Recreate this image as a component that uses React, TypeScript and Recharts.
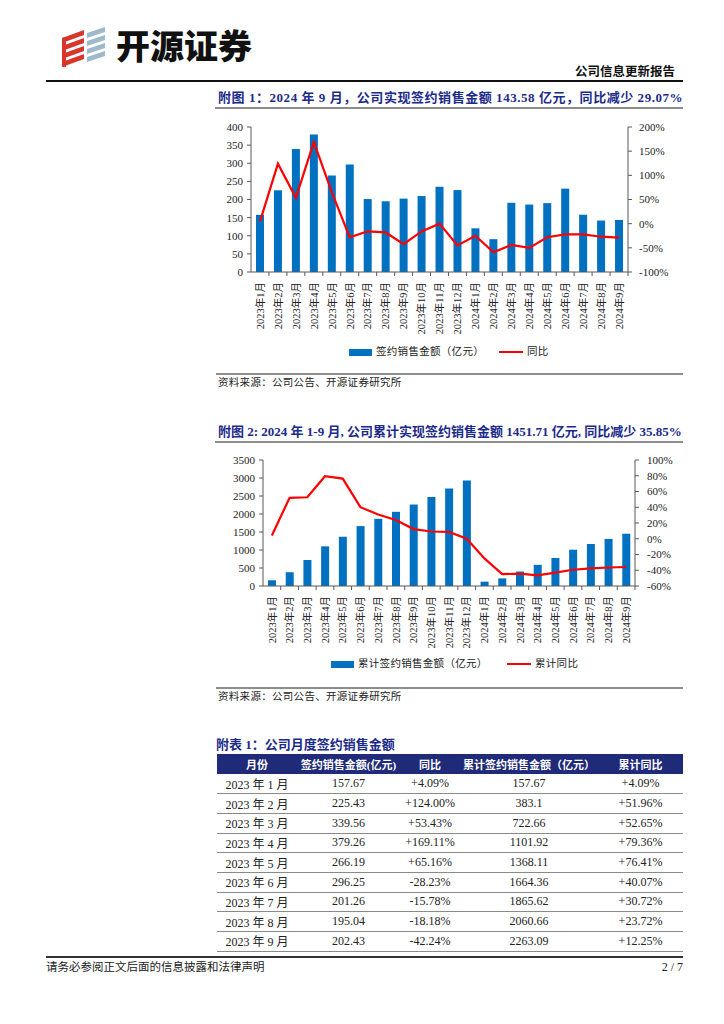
import React from 'react';
import { ComposedChart, Bar, Line, XAxis, YAxis } from 'recharts';

const months = [
  '2023年1月', '2023年2月', '2023年3月', '2023年4月', '2023年5月', '2023年6月', '2023年7月',
  '2023年8月', '2023年9月', '2023年10月', '2023年11月', '2023年12月', '2024年1月', '2024年2月',
  '2024年3月', '2024年4月', '2024年5月', '2024年6月', '2024年7月', '2024年8月', '2024年9月',
];
// 签约销售金额（亿元）
const monthlySales = [157.67, 225.43, 339.56, 379.26, 266.19, 296.25, 201.26, 195.04, 202.43, 209.5, 235.2, 226.0, 120.5, 90.6, 191.0, 186.0, 190.0, 230.0, 158.0, 142.0, 143.58];
// 同比 (%)
const monthlyYoY = [4.09, 124.0, 53.43, 169.11, 65.16, -28.23, -15.78, -18.18, -42.24, -16.0, 0.0, -45.0, -25.0, -59.0, -44.0, -50.0, -28.0, -22.0, -22.0, -27.0, -29.07];
// 累计签约销售金额（亿元）
const cumSales = [157.67, 383.1, 722.66, 1101.92, 1368.11, 1664.36, 1865.62, 2060.66, 2263.09, 2472.6, 2707.8, 2933.8, 120.5, 211.1, 402.1, 588.1, 778.1, 1008.1, 1166.1, 1308.1, 1451.71];
// 累计同比 (%)
const cumYoY = [4.09, 51.96, 52.65, 79.36, 76.41, 40.07, 30.72, 23.72, 12.25, 9.2, 8.7, 0.0, -25.0, -44.9, -44.4, -46.6, -43.1, -39.4, -37.5, -36.5, -35.85];

const salesTicks = [0, 50, 100, 150, 200, 250, 300, 350, 400];
const yoyTicks = [-100, -50, 0, 50, 100, 150, 200];
const cumTicks = [0, 500, 1000, 1500, 2000, 2500, 3000, 3500];
const cumYoyTicks = [-60, -40, -20, 0, 20, 40, 60, 80, 100];

// 附表 1
const tableHeader = ['月份', '签约销售金额(亿元)', '同比', '累计签约销售金额（亿元）', '累计同比'];
const tableMonths = ['2023 年 1 月', '2023 年 2 月', '2023 年 3 月', '2023 年 4 月', '2023 年 5 月', '2023 年 6 月', '2023 年 7 月', '2023 年 8 月', '2023 年 9 月'];
const tableSales = ['157.67', '225.43', '339.56', '379.26', '266.19', '296.25', '201.26', '195.04', '202.43'];
const tableYoY = ['+4.09%', '+124.00%', '+53.43%', '+169.11%', '+65.16%', '-28.23%', '-15.78%', '-18.18%', '-42.24%'];
const tableCum = ['157.67', '383.1', '722.66', '1101.92', '1368.11', '1664.36', '1865.62', '2060.66', '2263.09'];
const tableCumYoY = ['+4.09%', '+51.96%', '+52.65%', '+79.36%', '+76.41%', '+40.07%', '+30.72%', '+23.72%', '+12.25%'];

const chart1Data = months.map((m, i) => ({ m, sales: monthlySales[i], yoy: monthlyYoY[i] }));
const chart2Data = months.map((m, i) => ({ m, sales: cumSales[i], yoy: cumYoY[i] }));

const serif = '"Liberation Serif", "Noto Sans CJK SC", serif';
const BLUE = '#0070C0';
const RED = '#FF0000';
const AXIS = '#595959';
const TITLE = '#1c2b8a';

const XTick = (props: any) => {
  const { x, y, payload, bw } = props;
  const ty = y + 8;
  return (
    <g>
      <line x1={x + bw / 2} x2={x + bw / 2} y1={y - 2} y2={y + 2} stroke={AXIS} strokeWidth={1} />
      <text
        x={x}
        y={ty}
        transform={`rotate(-90, ${x}, ${ty})`}
        textAnchor="end"
        dy="0.36em"
        fontSize={10.5}
        fill="#222"
        fontFamily={serif}
      >
        {payload.value}
      </text>
    </g>
  );
};

const tickStyle = { fontSize: 11, fill: '#222', fontFamily: serif };

function DualChart({ data, left, right, width, height, leftW, rightW, top, leftDomain, rightDomain, rightMargin }: any) {
  const bw = (width - leftW - rightW) / data.length;
  return (
    <ComposedChart width={width} height={height} data={data} margin={{ top, right: 0, bottom: 0, left: 0 }}>
      <XAxis
        dataKey="m"
        interval={0}
        height={65}
        tickSize={0}
        tickMargin={2}
        axisLine={{ stroke: AXIS }}
        tick={(p: any) => <XTick {...p} bw={bw} />}
      />
      <YAxis
        yAxisId="left"
        width={leftW}
        domain={leftDomain}
        ticks={left}
        interval={0}
        tickSize={4}
        tickMargin={4}
        axisLine={{ stroke: AXIS }}
        tickLine={{ stroke: AXIS }}
        tick={tickStyle}
      />
      <YAxis
        yAxisId="right"
        orientation="right"
        width={rightW}
        domain={rightDomain}
        ticks={right}
        interval={0}
        tickSize={4}
        tickMargin={rightMargin}
        axisLine={{ stroke: AXIS }}
        tickLine={{ stroke: AXIS }}
        tick={tickStyle}
        tickFormatter={(v: number) => `${v}%`}
      />
      <Bar yAxisId="left" dataKey="sales" fill={BLUE} barSize={8} isAnimationActive={false} />
      <Line yAxisId="right" dataKey="yoy" stroke={RED} strokeWidth={2.2} dot={false} type="linear" isAnimationActive={false} />
    </ComposedChart>
  );
}

const abs = (left: number, top: number, extra: any = {}) => ({ position: 'absolute' as const, left, top, ...extra });

function Legend({ top, left, barText, lineLeft, lineText }: any) {
  const txt = { fontSize: 10.5, fontFamily: serif, color: '#222', whiteSpace: 'nowrap', lineHeight: '16px', letterSpacing: 0.3 };
  return (
    <>
      <div style={abs(left, top - 3, { width: 23, height: 7, background: BLUE })} />
      <div style={abs(left + 27, top - 8, txt)}>{barText}</div>
      <div style={abs(lineLeft, top - 1, { width: 24, height: 2, background: RED })} />
      <div style={abs(lineLeft + 28, top - 8, txt)}>{lineText}</div>
    </>
  );
}

function Logo() {
  const red = '#D7372B';
  const blue = '#9DBACB';
  const bars = [0, 1, 2, 3];
  return (
    <svg width={50} height={44} style={abs(58, 24)}>
      {bars.map((i) => (
        <polygon key={'r' + i} points={`${4},${14 + i * 8} ${26},${6 + i * 8} ${26},${11 + i * 8} ${4},${19 + i * 8}`} fill={red} />
      ))}
      <polygon points="4,14 8,13 8,43 4,43" fill={red} />
      {bars.map((i) => (
        <polygon key={'b' + i} points={`${29},${9 + i * 8} ${47},${3 + i * 8} ${47},${8 + i * 8} ${29},${14 + i * 8}`} fill={blue} />
      ))}
    </svg>
  );
}

export default function App() {
  const titleStyle = { fontSize: 13, fontWeight: 700, color: TITLE, fontFamily: serif, whiteSpace: 'nowrap' as const, lineHeight: '18px' };
  const sourceStyle = { fontSize: 10.5, color: '#222', fontFamily: serif, whiteSpace: 'nowrap' as const, lineHeight: '14px', letterSpacing: 0.3 };
  const cols = [80, 103, 60, 138, 85];
  const rowH = 19.7;
  return (
    <div style={{ position: 'relative', width: 724, height: 1024, background: '#fff', overflow: 'hidden' }}>
      <style>{'body{margin:0}'}</style>
      <Logo />
      <div style={abs(116, 22, { fontSize: 34, fontWeight: 900, fontFamily: '"Noto Sans CJK SC", sans-serif', color: '#111', letterSpacing: 0, lineHeight: '46px' })}>开源证券</div>
      <div style={abs(575, 64, { fontSize: 12.5, fontWeight: 700, fontFamily: serif, color: '#111', lineHeight: '16px' })}>公司信息更新报告</div>
      <div style={abs(46, 80, { width: 637, height: 1.5, background: '#111' })} />

      {/* 附图 1 */}
      <div style={abs(218, 89, { ...titleStyle, letterSpacing: 0.55 })}>附图 1：2024 年 9 月，公司实现签约销售金额 143.58 亿元，同比减少 29.07%</div>
      <div style={abs(215, 107, { width: 468, height: 1.5, background: '#8c8c8c' })} />
      <div style={abs(210, 115)}>
        <DualChart
          data={chart1Data}
          left={salesTicks}
          right={yoyTicks}
          width={475}
          height={222}
          leftW={41}
          rightW={57}
          top={12}
          leftDomain={[0, 400]}
          rightDomain={[-100, 200]}
          rightMargin={7}
        />
      </div>
      <Legend top={352} left={349} barText="签约销售金额（亿元）" lineLeft={499} lineText="同比" />
      <div style={abs(216, 373, { width: 467, height: 1.5, background: '#8c8c8c' })} />
      <div style={abs(218, 376, sourceStyle)}>资料来源：公司公告、开源证券研究所</div>

      {/* 附图 2 */}
      <div style={abs(218, 423, titleStyle)}>附图 2: 2024 年 1-9 月, 公司累计实现签约销售金额 1451.71 亿元, 同比减少 35.85%</div>
      <div style={abs(215, 441, { width: 468, height: 1.5, background: '#8c8c8c' })} />
      <div style={abs(210, 448)}>
        <DualChart
          data={chart2Data}
          left={cumTicks}
          right={cumYoyTicks}
          width={475}
          height={203}
          leftW={53}
          rightW={50}
          top={12}
          leftDomain={[0, 3500]}
          rightDomain={[-60, 100]}
          rightMargin={8}
        />
      </div>
      <Legend top={664} left={331} barText="累计签约销售金额（亿元）" lineLeft={507} lineText="累计同比" />
      <div style={abs(216, 687, { width: 467, height: 1.5, background: '#8c8c8c' })} />
      <div style={abs(218, 690, sourceStyle)}>资料来源：公司公告、开源证券研究所</div>

      {/* 附表 1 */}
      <div style={abs(216, 736, titleStyle)}>附表 1：公司月度签约销售金额</div>
      <table style={abs(217, 754, { borderCollapse: 'collapse', tableLayout: 'fixed', width: 466, fontFamily: serif })}>
        <colgroup>
          {cols.map((w, i) => <col key={i} style={{ width: w }} />)}
        </colgroup>
        <thead>
          <tr style={{ background: '#1f2a78', height: 20 }}>
            {tableHeader.map((h) => (
              <th key={h} style={{ color: '#fff', fontSize: 11, fontWeight: 700, padding: 0, textAlign: 'center', whiteSpace: 'nowrap' }}>{h}</th>
            ))}
          </tr>
        </thead>
        <tbody>
          {tableMonths.map((m, i) => (
            <tr key={m} style={{ height: rowH, borderBottom: '1.2px solid #8a8a8a' }}>
              {[m, tableSales[i], tableYoY[i], tableCum[i], tableCumYoY[i]].map((c, j) => (
                <td key={j} style={{ fontSize: 12, color: '#222', padding: 0, textAlign: 'center', whiteSpace: 'nowrap' }}>{c}</td>
              ))}
            </tr>
          ))}
        </tbody>
      </table>

      <div style={abs(46, 956, { width: 637, height: 2, background: '#333' })} />
      <div style={abs(46, 959, { fontSize: 11.5, color: '#222', fontFamily: serif, whiteSpace: 'nowrap', lineHeight: '16px' })}>请务必参阅正文后面的信息披露和法律声明</div>
      <div style={abs(640, 959, { width: 43, textAlign: 'right', fontSize: 12, color: '#222', fontFamily: serif, lineHeight: '16px' })}>2 / 7</div>
    </div>
  );
}
